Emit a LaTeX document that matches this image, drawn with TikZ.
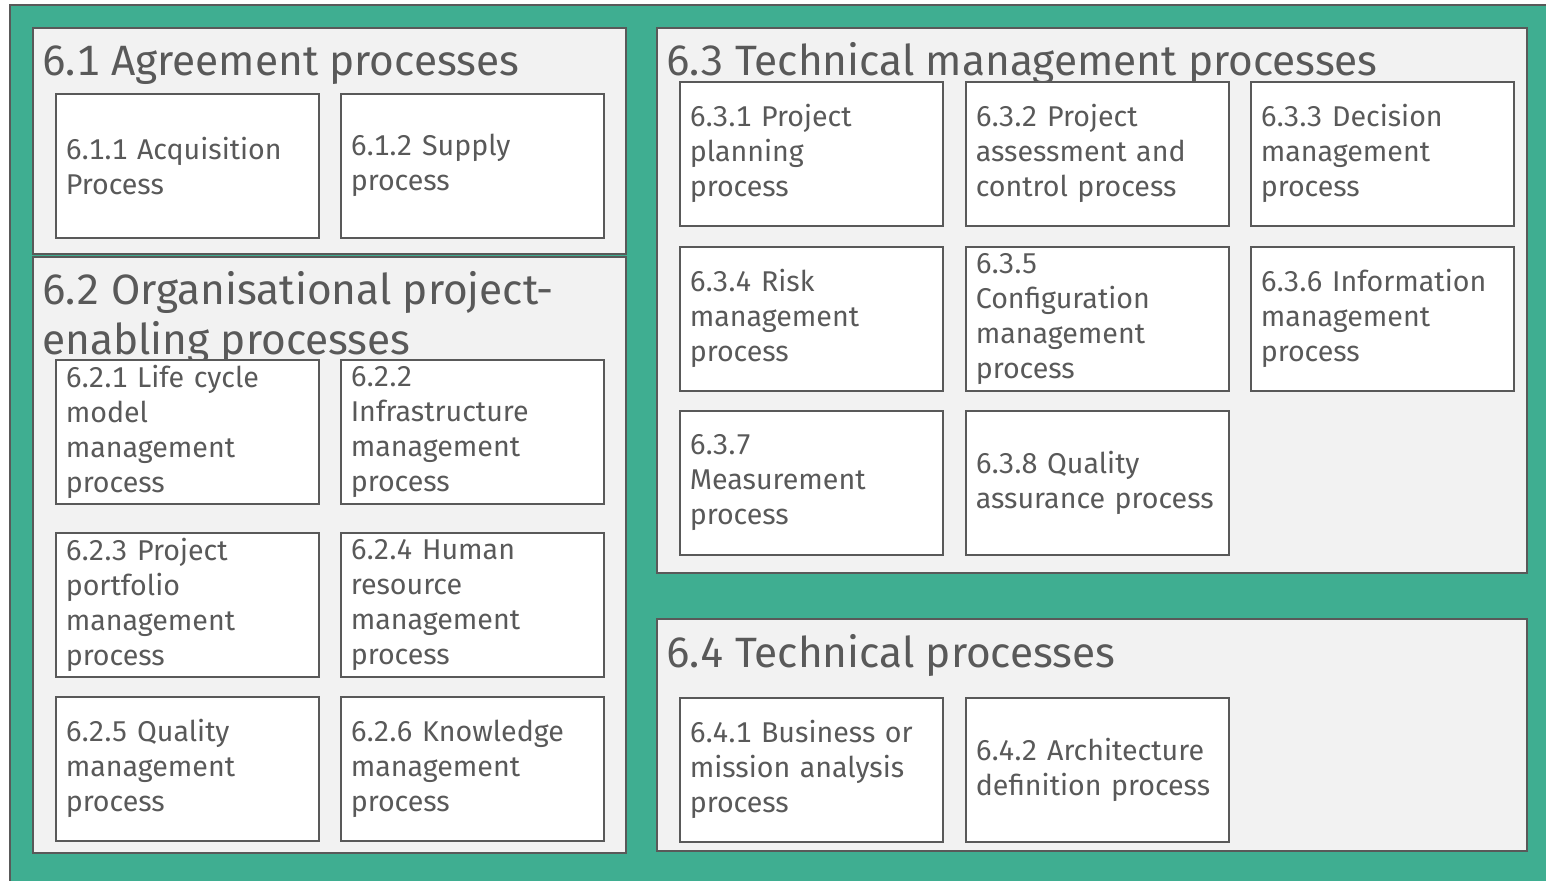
\documentclass[tikz,border=0pt]{standalone}
\usepackage{fontspec}
\setmainfont[Numbers=Monospaced]{Fira Sans}
\definecolor{teal}{HTML}{3FAE91}
\definecolor{panelbg}{HTML}{F2F2F2}
\definecolor{bord}{HTML}{595959}
\definecolor{txt}{HTML}{595959}
\newcommand\titlefnt{\fontsize{42.4}{50}\selectfont}
\newcommand\boxfnt{\fontsize{28.6}{35}\selectfont}
\tikzset{
  panel/.style={draw=bord, fill=panelbg, line width=1.6pt, anchor=north west, inner sep=0pt},
  proc/.style={draw=bord, fill=white, line width=1.6pt, anchor=north west,
    minimum width=263pt, minimum height=144pt, text width=243pt,
    inner xsep=10pt, inner ysep=0pt, align=left, text=txt, font=\boxfnt},
  ptitle/.style={anchor=base west, text=txt, font=\titlefnt, inner sep=0pt},
}
\begin{document}
\begin{tikzpicture}[x=1pt,y=-1pt]
\useasboundingbox (0,0) rectangle (1546,880);
\clip (0,0) rectangle (1546,880);
\draw[fill=teal, draw=bord, line width=1.6pt] (10,5) rectangle (1600,940);
% panels
\node[panel, minimum width=593pt, minimum height=226pt] (g61) at (32,27) {};
\node[panel, minimum width=593pt, minimum height=596pt] (g62) at (32,256) {};
\node[panel, minimum width=870pt, minimum height=545pt] (g63) at (656,27) {};
\node[panel, minimum width=870pt, minimum height=232pt] (g64) at (656,618) {};
% titles
\node[ptitle] (t61) at (42,76) {6.1 Agreement processes};
\node[ptitle] (t62a) at (42,304) {6.2 Organisational project-};
\node[ptitle] (t62b) at (42,354) {enabling processes};
\node[ptitle] (t63) at (666,76) {6.3 Technical management processes};
\node[ptitle] (t64) at (666,667) {6.4 Technical processes};
% process boxes
\node[proc] (p611) at (55,93) {6.1.1 Acquisition\\Process};
\node[proc] (p612) at (340,93) {6.1.2 Supply\\process};
\node[proc] (p621) at (55,359) {6.2.1 Life cycle\\model\\management\\process};
\node[proc] (p622) at (340,359) {6.2.2\\Infrastructure\\management\\process};
\node[proc] (p623) at (55,532) {6.2.3 Project\\portfolio\\management\\process};
\node[proc] (p624) at (340,532) {6.2.4 Human\\resource\\management\\process};
\node[proc] (p625) at (55,696) {6.2.5 Quality\\management\\process};
\node[proc] (p626) at (340,696) {6.2.6 Knowledge\\management\\process};
\node[proc] (p631) at (679,81) {6.3.1 Project\\planning\\process};
\node[proc] (p632) at (965,81) {6.3.2 Project\\assessment and\\control process};
\node[proc] (p633) at (1250,81) {6.3.3 Decision\\management\\process};
\node[proc] (p634) at (679,246) {6.3.4 Risk\\management\\process};
\node[proc] (p635) at (965,246) {6.3.5\\Configuration\\management\\process};
\node[proc] (p636) at (1250,246) {6.3.6 Information\\management\\process};
\node[proc] (p637) at (679,410) {6.3.7\\Measurement\\process};
\node[proc] (p638) at (965,410) {6.3.8 Quality\\assurance process};
\node[proc] (p641) at (679,697) {6.4.1 Business or\\mission analysis\\process};
\node[proc] (p642) at (965,697) {6.4.2 Architecture\\definition process};
\end{tikzpicture}
\end{document}
